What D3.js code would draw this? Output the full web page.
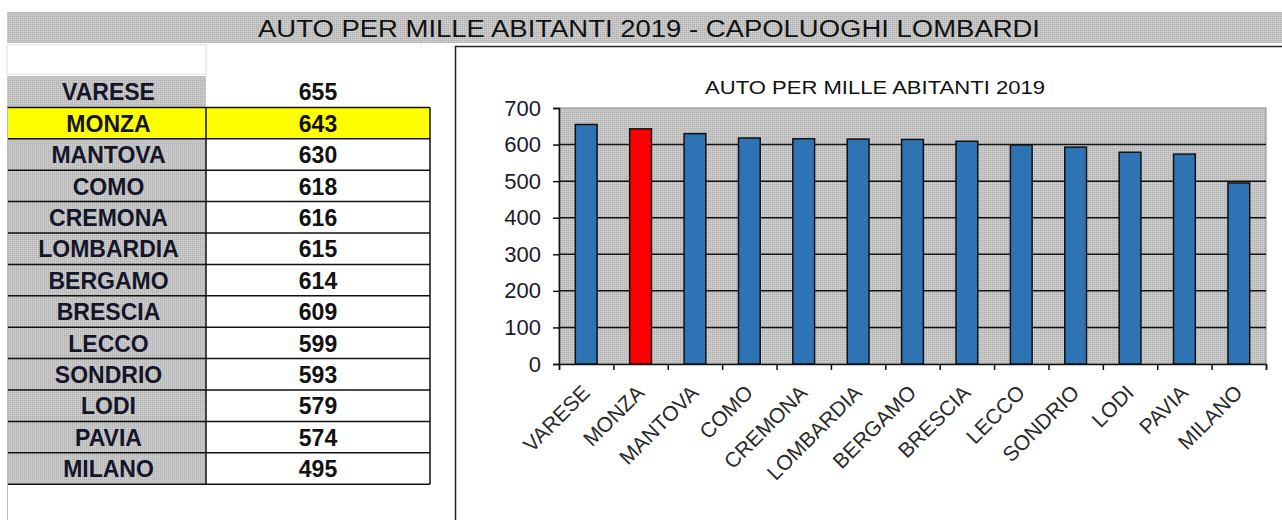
<!DOCTYPE html>
<html>
<head>
<meta charset="utf-8">
<script src="https://cdn.jsdelivr.net/npm/d3@7"></script>
<style>
  body { margin: 0; background: #fff; }
  svg { display: block; }
</style>
</head>
<body>
<script>
//-----------------Data----------------

const cities = ["VARESE", "MONZA", "MANTOVA", "COMO", "CREMONA", "LOMBARDIA", "BERGAMO", "BRESCIA", "LECCO", "SONDRIO", "LODI", "PAVIA", "MILANO"];
const autoPerMille = [655, 643, 630, 618, 616, 615, 614, 609, 599, 593, 579, 574, 495];
const yTicks = [0, 100, 200, 300, 400, 500, 600, 700];
const highlight = "MONZA";

const mainTitle = "AUTO PER MILLE ABITANTI 2019 - CAPOLUOGHI LOMBARDI";
const chartTitle = "AUTO PER MILLE ABITANTI 2019";

//-----------------Main svg----------------

const width = 1282;
const height = 520;
const blue = "#2E74B5";
const red = "#FF0000";
const font = "'Liberation Sans', Arial, sans-serif";
const narrow = "'Liberation Sans Narrow', 'Liberation Sans', Arial, sans-serif";

const svg = d3.select("body").append("svg").attr("width", width).attr("height", height);

// dithered gray like the old spreadsheet fill
const defs = svg.append("defs");
const pat = defs.append("pattern").attr("id", "dither").attr("width", 2).attr("height", 2).attr("patternUnits", "userSpaceOnUse");
pat.append("rect").attr("width", 2).attr("height", 2).attr("fill", "#c2c2c2");
pat.append("rect").attr("width", 1).attr("height", 1).attr("fill", "#b2b2b2");
pat.append("rect").attr("x", 1).attr("y", 1).attr("width", 1).attr("height", 1).attr("fill", "#d2d2d2");

//-----------------Banner----------------

svg.append("rect").attr("x", 7).attr("y", 12).attr("width", width - 7).attr("height", 31).attr("fill", "url(#dither)");
svg
  .append("text")
  .attr("x", 649)
  .attr("y", 37)
  .attr("text-anchor", "middle")
  .attr("textLength", 782)
  .attr("lengthAdjust", "spacingAndGlyphs")
  .style("font-family", narrow)
  .style("font-size", "23px")
  .style("fill", "#111")
  .text(mainTitle);

//-----------------Table----------------

const tableX = 7;
const colX = 206;
const tableRight = 430;
const rowTop = 76;
const rowH = 31.4;

// blank cell above the table
svg.append("rect").attr("x", tableX).attr("y", 45).attr("width", colX - tableX).attr("height", 29).attr("fill", "#fff").attr("stroke", "#ddd");

const rows = svg.append("g").attr("id", "table");

const row = rows
  .selectAll("g")
  .data(cities)
  .enter()
  .append("g")
  .attr("transform", (d, i) => "translate(0," + (rowTop + i * rowH) + ")");

row
  .append("rect")
  .attr("x", tableX)
  .attr("width", colX - tableX)
  .attr("height", rowH)
  .attr("fill", (d) => (d === highlight ? "#FFFF00" : "url(#dither)"));

row
  .append("rect")
  .attr("x", colX)
  .attr("width", tableRight - colX)
  .attr("height", rowH)
  .attr("fill", (d) => (d === highlight ? "#FFFF00" : "#fff"));

row
  .append("text")
  .attr("x", (tableX + colX) / 2 + 2)
  .attr("y", rowH - 7)
  .attr("text-anchor", "middle")
  .style("font-family", font)
  .style("font-weight", "bold")
  .style("font-size", "23px")
  .style("fill", "#15152a")
  .text((d) => d);

row
  .append("text")
  .attr("x", (colX + tableRight) / 2)
  .attr("y", rowH - 7)
  .attr("text-anchor", "middle")
  .style("font-family", font)
  .style("font-weight", "bold")
  .style("font-size", "23px")
  .style("fill", "#111")
  .text((d, i) => autoPerMille[i]);

// grid lines of the table
const tableBottom = rowTop + cities.length * rowH;
rows
  .selectAll("line.h")
  .data(d3.range(1, cities.length + 1))
  .enter()
  .append("line")
  .attr("class", "h")
  .attr("x1", tableX)
  .attr("x2", tableRight)
  .attr("y1", (d) => rowTop + d * rowH)
  .attr("y2", (d) => rowTop + d * rowH)
  .attr("stroke", "#111")
  .attr("stroke-width", 1.5);

rows.append("line").attr("x1", colX).attr("x2", colX).attr("y1", rowTop + rowH).attr("y2", tableBottom).attr("stroke", "#111").attr("stroke-width", 1.5);
rows.append("line").attr("x1", tableRight).attr("x2", tableRight).attr("y1", rowTop + rowH).attr("y2", tableBottom).attr("stroke", "#111").attr("stroke-width", 1.5);
rows.append("line").attr("x1", tableX + 0.5).attr("x2", tableX + 0.5).attr("y1", rowTop + rowH).attr("y2", height).attr("stroke", "#bbb").attr("stroke-width", 1);

//-----------------Chart panel----------------

svg.append("path").attr("d", "M455.5,520 V46.5 H1282").attr("fill", "none").attr("stroke", "#222").attr("stroke-width", 1.5);

svg
  .append("text")
  .attr("x", 875)
  .attr("y", 94)
  .attr("text-anchor", "middle")
  .attr("textLength", 340)
  .attr("lengthAdjust", "spacingAndGlyphs")
  .style("font-family", narrow)
  .style("font-size", "19px")
  .style("fill", "#111")
  .text(chartTitle);

const plot = { left: 559, right: 1266, top: 108, bottom: 364 };

const xScale = d3.scaleBand().domain(cities).range([plot.left, plot.right]).paddingInner(0.6).paddingOuter(0.3);
const xSlots = d3.scaleLinear().domain([0, cities.length]).range([plot.left, plot.right]);
const yScale = d3.scaleLinear().domain([0, 700]).range([plot.bottom, plot.top]);

svg
  .append("rect")
  .attr("x", plot.left)
  .attr("y", plot.top)
  .attr("width", plot.right - plot.left)
  .attr("height", plot.bottom - plot.top)
  .attr("fill", "url(#dither)")
  .attr("stroke", "#8a8a8a");

// horizontal grid
svg
  .append("g")
  .selectAll("line")
  .data(yTicks.filter((t) => t > 0 && t < 700))
  .enter()
  .append("line")
  .attr("x1", plot.left)
  .attr("x2", plot.right)
  .attr("y1", (d) => yScale(d))
  .attr("y2", (d) => yScale(d))
  .attr("stroke", "#111")
  .attr("stroke-width", 1.5);

//-------------Bars----------------

svg
  .selectAll("rect.bar")
  .data(cities)
  .enter()
  .append("rect")
  .attr("class", "bar")
  .attr("x", (d) => xScale(d))
  .attr("y", (d, i) => yScale(autoPerMille[i]))
  .attr("width", xScale.bandwidth())
  .attr("height", (d, i) => plot.bottom - yScale(autoPerMille[i]))
  .attr("fill", (d) => (d === highlight ? red : blue))
  .attr("stroke", "#111")
  .attr("stroke-width", 1.5);

//------------Axis----------------

const yAxis = d3.axisLeft(yScale).tickValues(yTicks).tickSize(6).tickPadding(12);
const gy = svg.append("g").attr("transform", "translate(" + plot.left + ",0)").call(yAxis);
gy.select(".domain").attr("stroke", "#111").attr("stroke-width", 1.5);
gy.selectAll(".tick line").attr("stroke", "#111").attr("stroke-width", 1.5);
gy.selectAll("text").style("font-family", font).style("font-size", "22px").style("fill", "#1a1a2a");

const xAxis = d3.axisBottom(xSlots).tickValues(d3.range(cities.length + 1)).tickSize(6).tickFormat("");
const gx = svg.append("g").attr("transform", "translate(0," + plot.bottom + ")").call(xAxis);
gx.select(".domain").attr("stroke", "#111").attr("stroke-width", 1.5);
gx.selectAll(".tick line").attr("stroke", "#111").attr("stroke-width", 1.5);

svg
  .append("g")
  .selectAll("text")
  .data(cities)
  .enter()
  .append("text")
  .attr("transform", (d) => "translate(" + (xScale(d) + xScale.bandwidth() / 2 + 5) + "," + (plot.bottom + 30) + ") rotate(-45)")
  .attr("text-anchor", "end")
  .style("font-family", font)
  .style("font-size", "21px")
  .style("fill", "#2a2a2a")
  .text((d) => d);
</script>
</body>
</html>
